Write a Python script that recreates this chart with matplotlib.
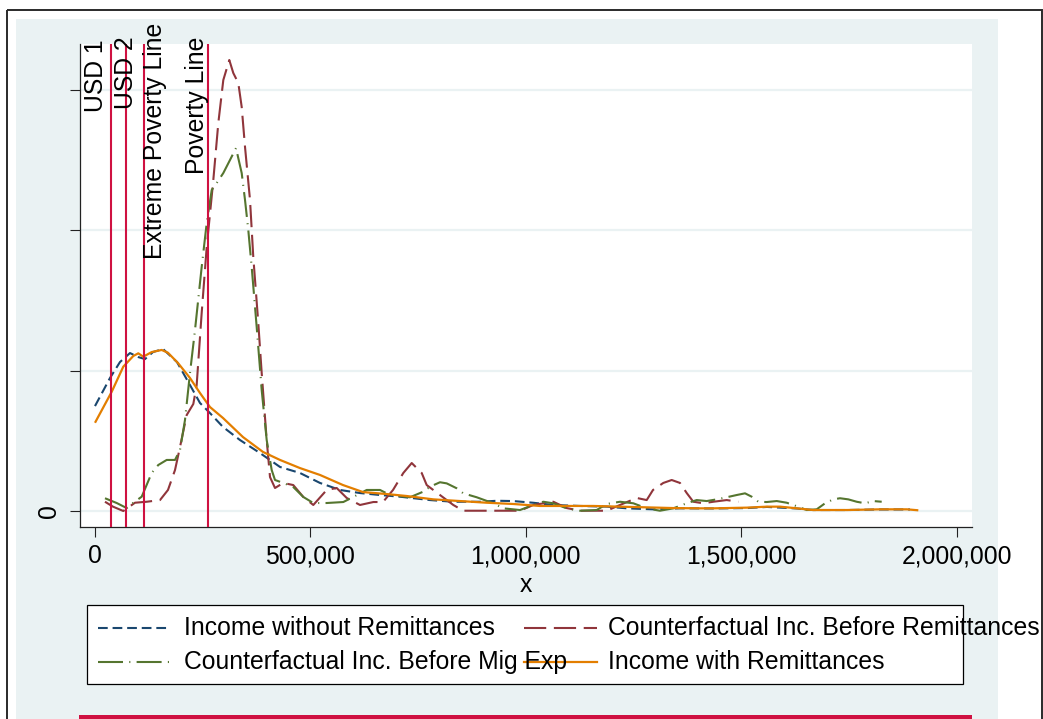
import matplotlib
matplotlib.use("Agg")
import matplotlib.pyplot as plt
from matplotlib.patches import Rectangle
from matplotlib.lines import Line2D

plt.rcParams['font.family'] = ['Liberation Sans', 'DejaVu Sans']
plt.rcParams['lines.scale_dashes'] = False

# ---- kernel density estimates (density in units of 1e-6) ----
inc_wo_x = [0, 34800, 58000, 81200, 99800, 116000, 134600, 157800, 190300, 220500,
            243700, 266900, 297100, 336500, 383000, 429400, 475800, 522200, 568600,
            615100, 661500, 707900, 777500, 830900, 893600, 933000, 970200, 1016600,
            1063000, 1125700, 1188400, 1234800, 1295100, 1357800, 1434400, 1513300,
            1559700, 1629300, 1666500, 1745400, 1822000, 1891600]
inc_wo_y = [0.748, 0.948, 1.062, 1.126, 1.098, 1.083, 1.133, 1.155, 1.062, 0.898,
            0.770, 0.698, 0.599, 0.506, 0.413, 0.314, 0.271, 0.200, 0.150,
            0.128, 0.114, 0.102, 0.078, 0.066, 0.066, 0.073, 0.071, 0.059,
            0.043, 0.036, 0.031, 0.019, 0.012, 0.019, 0.018, 0.021,
            0.029, 0.018, 0.007, 0.007, 0.011, 0.011]

cf_rem_x = [23200, 41800, 65700, 92800, 120000, 150900, 169400, 185700, 197300, 212800,
            228200, 236000, 247600, 259300, 274600, 286200, 297800, 311700, 321000,
            332600, 340500, 348200, 359800, 367400, 379000, 386900, 398500, 406200,
            417800, 437000, 460200, 483500, 506700, 537800, 561000, 584200, 615100,
            646000, 668400, 691700, 715600, 735100, 758300, 769900, 800700, 831600,
            854800, 893600, 986400, 1017300, 1063700, 1094800, 1125700, 1187600,
            1218500, 1257300, 1280500, 1295100, 1319000, 1338500, 1357800, 1373400,
            1388700, 1411900, 1435100, 1466200, 1493100]
cf_rem_y = [0.066, 0.031, 0.000, 0.059, 0.066, 0.078, 0.150, 0.292, 0.456, 0.684,
            0.763, 0.898, 1.411, 1.882, 2.359, 2.765, 3.072, 3.215, 3.122,
            3.051, 2.880, 2.595, 2.217, 1.810, 1.340, 0.984, 0.506, 0.242,
            0.164, 0.200, 0.185, 0.100, 0.043, 0.150, 0.164, 0.093, 0.043,
            0.064, 0.064, 0.150, 0.271, 0.342, 0.271, 0.185, 0.114, 0.043,
            0.002, 0.002, 0.002, 0.043, 0.066, 0.021, 0.002, 0.002,
            0.043, 0.093, 0.078, 0.150, 0.200, 0.221, 0.200, 0.128,
            0.066, 0.055, 0.066, 0.078, 0.066]

cf_mig_x = [23200, 50400, 73600, 88200, 108400, 131600, 146900, 166400, 185700, 197300,
            208900, 220500, 232100, 247600, 259300, 270900, 282500, 297800, 313300,
            327300, 340500, 348200, 355800, 363700, 375300, 386900, 398500, 410100,
            417800, 437000, 460200, 483500, 506700, 537800, 576300, 599500, 630600,
            661500, 684700, 731100, 762000, 777500, 800700, 816300, 839500, 854800,
            885900, 924400, 947700, 986400, 1017300, 1040500, 1063700, 1094800,
            1125700, 1164400, 1187600, 1218500, 1249400, 1280500, 1311200, 1342200,
            1373300, 1396500, 1419800, 1443000, 1466200, 1489400, 1508700, 1524200,
            1539600, 1559000, 1582300, 1605500, 1620800, 1651900, 1675100, 1694400,
            1713600, 1729100, 1748400, 1767900, 1787200, 1806500, 1825900]
cf_mig_y = [0.091, 0.057, 0.021, 0.057, 0.102, 0.271, 0.328, 0.364, 0.364, 0.435,
            0.649, 0.984, 1.290, 1.739, 2.053, 2.288, 2.338, 2.409, 2.502,
            2.587, 2.409, 2.217, 2.003, 1.739, 1.311, 0.862, 0.506, 0.292,
            0.221, 0.200, 0.171, 0.100, 0.057, 0.057, 0.064, 0.100, 0.150,
            0.150, 0.114, 0.098, 0.138, 0.173, 0.205, 0.197, 0.162, 0.126,
            0.098, 0.055, 0.019, 0.007, 0.043, 0.066, 0.055, 0.019,
            0.002, 0.007, 0.050, 0.066, 0.055, 0.019, 0.002, 0.019,
            0.055, 0.078, 0.071, 0.083, 0.098, 0.114, 0.126, 0.102,
            0.066, 0.064, 0.071, 0.059, 0.043, 0.007, 0.012, 0.055,
            0.083, 0.091, 0.083, 0.066, 0.055, 0.071, 0.066]

inc_w_x = [0, 38800, 65700, 88900, 100500, 112100, 131600, 154800, 169400, 192600,
           220500, 243700, 266900, 297100, 343500, 389900, 429400, 475800, 522200,
           575600, 622000, 677000, 723400, 785200, 847200, 909100, 970900, 1032800,
           1095500, 1156600, 1218500, 1281200, 1342200, 1404100, 1435100, 1513300,
           1559700, 1589900, 1629300, 1666500, 1745400, 1822000, 1884600, 1910900]
inc_w_y = [0.629, 0.850, 1.029, 1.105, 1.124, 1.100, 1.133, 1.148, 1.128, 1.055,
           0.948, 0.841, 0.741, 0.663, 0.527, 0.421, 0.364, 0.306, 0.257,
           0.185, 0.135, 0.121, 0.107, 0.083, 0.071, 0.059, 0.050, 0.036,
           0.036, 0.036, 0.031, 0.026, 0.021, 0.019, 0.019, 0.024,
           0.031, 0.031, 0.019, 0.007, 0.007, 0.012, 0.012, 0.005]

# reference lines
ref_x = [36500, 73000, 114500, 263000]
ref_labels = ["USD 1", "USD 2", "Extreme Poverty Line", "Poverty Line"]
ref_label_x = [2300, 71500, 139300, 236000]
ref_label_y = [3.100, 3.121, 2.637, 2.890]

x_ticks = [0, 500000, 1000000, 1500000, 2000000]
y_ticks = [0, 1, 2, 3]
y_ticklabels = ["0", "", "", ""]

series_names = ["Income without Remittances", "Counterfactual Inc. Before Remittances",
                "Counterfactual Inc. Before Mig Exp", "Income with Remittances"]

BG = '#eaf2f3'
CRANBERRY = '#cf1141'
FS = 17.8
styles = [
    dict(color='#1a476f', lw=1.5, dashes=(7, 3.5)),
    dict(color='#90353b', lw=1.5, dashes=(16, 5.5)),
    dict(color='#55752f', lw=1.5, dashes=(18, 4.5, 0.8, 4.5)),
    dict(color='#e37e00', lw=1.6),
]

W, H = 1043, 719
fig = plt.figure(figsize=(W / 100, H / 100), dpi=100)
fig.patch.set_facecolor('white')

# background panel and outer frame
bg = fig.add_axes([0, 0, 1, 1], zorder=-1)
bg.set_xlim(0, W)
bg.set_ylim(H, 0)
bg.axis('off')
bg.add_patch(Rectangle((16, 19), 982, 710, facecolor=BG, edgecolor='none'))
bg.add_patch(Rectangle((7, 10), 1034.5, 720, facecolor='none', edgecolor='#2a2a2a', lw=1.4))

# main plot
ax = fig.add_axes([80 / W, (H - 527) / H, (972 - 80) / W, (527 - 44) / H], zorder=1)
ax.set_facecolor('white')
ax.set_xlim(-34800, 2035500)
ax.set_ylim(-0.114, 3.329)

data = [(inc_wo_x, inc_wo_y), (cf_rem_x, cf_rem_y), (cf_mig_x, cf_mig_y), (inc_w_x, inc_w_y)]
for (xs, ys), st, name in zip(data, styles, series_names):
    ax.plot(xs, ys, label=name, solid_capstyle='butt', dash_capstyle='butt', zorder=2, **st)

for rx in ref_x:
    ax.axvline(rx, color=CRANBERRY, lw=1.5, zorder=3)
for lx, ly, lab in zip(ref_label_x, ref_label_y, ref_labels):
    ax.text(lx, ly, lab, rotation=90, ha='center', va='center', fontsize=FS,
            clip_on=False, zorder=4)

ax.set_xticks(x_ticks)
ax.set_xticklabels(["{:,}".format(v) for v in x_ticks], fontsize=FS)
ax.set_yticks(y_ticks)
ax.set_yticklabels(y_ticklabels, fontsize=FS, rotation=90, va='center')
ax.tick_params(axis='both', direction='out', length=7.5, width=0.8, color='#222222')
ax.tick_params(axis='x', pad=5)
ax.tick_params(axis='y', pad=6)
ax.set_xlabel("x", fontsize=FS, labelpad=3)

ax.yaxis.grid(True, color=BG, lw=1.6)
ax.set_axisbelow(True)
for side in ['top', 'right']:
    ax.spines[side].set_visible(False)
for side in ['left', 'bottom']:
    ax.spines[side].set_color('#222222')
    ax.spines[side].set_linewidth(0.9)

# legend drawn in pixel space
fg = fig.add_axes([0, 0, 1, 1], zorder=3)
fg.set_xlim(0, W)
fg.set_ylim(H, 0)
fg.axis('off')
fg.patch.set_alpha(0)
fg.add_patch(Rectangle((87, 605), 876, 79, facecolor='white', edgecolor='black', lw=0.9))
key_x = [(98, 170), (524, 597), (98, 170), (524, 597)]
key_y = [628, 628, 662, 662]
text_x = [184, 608, 184, 608]
for (x0, x1), ky, tx, st, name in zip(key_x, key_y, text_x, styles, series_names):
    fg.add_line(Line2D([x0, x1], [ky, ky], dash_capstyle='butt', **st))
    fg.text(tx, ky, name, fontsize=FS, va='center', ha='left')

fg.add_patch(Rectangle((79, 715), 893, 6, facecolor=CRANBERRY, edgecolor='none'))

fig.savefig("out.png", dpi=100)
